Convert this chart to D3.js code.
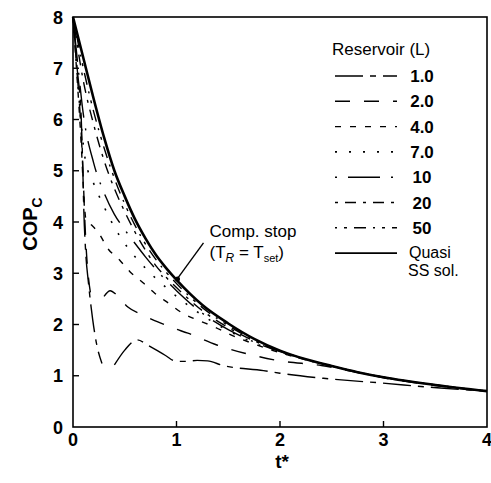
<!DOCTYPE html>
<html>
<head>
<meta charset="utf-8">
<script src="https://cdn.jsdelivr.net/npm/d3@7"></script>
<style>
  body { margin: 0; background: #fff; }
  svg { display: block; font-family: "Liberation Sans", Arial, sans-serif; }
</style>
</head>
<body>
<div id="chart"></div>
<script>
const width = 491, height = 483;
const margin = {top: 17, right: 4, bottom: 56, left: 73};

// axis ticks
const xTicks = [0, 1, 2, 3, 4];
const yTicks = [0, 1, 2, 3, 4, 5, 6, 7, 8];

// legend labels (reservoir volume, L)
const legendLabels = ['1.0', '2.0', '4.0', '7.0', '10', '20', '50'];

// curves: [t*, COPc], null = compressor off (gap)
const res1 = [[0,8],[0.04,7.0],[0.08,6.0],[0.095,5.0],[0.105,4.2],[0.12,3.5],[0.15,2.8],[0.19,2.1],[0.23,1.6],[0.28,1.24],null,
  [0.4,1.21],[0.5,1.5],[0.62,1.7],[0.72,1.6],[0.89,1.4],[1.0,1.28],[1.1,1.28],[1.2,1.3],[1.3,1.29],[1.45,1.2],[1.84,1.1],
  [2.0,1.05],[2.42,0.95],[2.97,0.86],[3.55,0.76],[4,0.7]];
const res2 = [[0,8],[0.04,6.9],[0.075,5.9],[0.1,4.8],[0.115,4.0],[0.13,3.4],[0.15,2.9],[0.17,2.6],null,
  [0.3,2.55],[0.36,2.66],[0.42,2.58],[0.53,2.34],[0.68,2.18],[0.82,2.05],[0.97,1.93],[1.11,1.83],[1.39,1.6],[1.66,1.44],
  [2.0,1.29],[2.4,1.2],[2.75,1.06],[3.0,0.96],[3.5,0.81],[4,0.69]];
const res4 = [[0,8],[0.04,6.8],[0.08,5.5],[0.105,4.5],[0.125,4.05],[0.16,3.98],[0.26,3.75],[0.33,3.5],[0.45,3.26],[0.55,3.03],
  [0.68,2.81],[0.79,2.61],[0.92,2.42],[1.06,2.22],[1.2,2.09],[1.37,1.95],[1.5,1.82],[1.75,1.62],[2.0,1.45],[2.25,1.31],
  [2.5,1.19],[2.75,1.07],[3.0,0.97],[3.5,0.82],[4,0.7]];
const res7 = [[0,8],[0.04,6.9],[0.08,5.9],[0.12,5.2],[0.2,4.75],[0.3,4.3],[0.4,3.9],[0.5,3.58],[0.6,3.32],[0.7,3.1],
  [0.8,2.9],[0.9,2.72],[1.0,2.55],[1.25,2.18],[1.5,1.88],[1.75,1.64],[2.0,1.46],[2.25,1.31],[2.5,1.19],[2.75,1.07],
  [3.0,0.97],[3.5,0.82],[4,0.7]];
const res10 = [[0,8],[0.05,7.0],[0.1,6.1],[0.2,5.15],[0.3,4.57],[0.4,4.15],[0.5,3.85],[0.6,3.58],[0.7,3.32],[0.8,3.08],
  [0.9,2.86],[1.0,2.66],[1.25,2.22],[1.5,1.9],[1.75,1.66],[2.0,1.47],[2.25,1.32],[2.5,1.19],[2.75,1.07],[3.0,0.97],
  [3.5,0.82],[4,0.7]];
const res20 = [[0,8],[0.1,6.75],[0.2,5.9],[0.3,5.2],[0.4,4.65],[0.5,4.2],[0.6,3.8],[0.7,3.45],[0.8,3.15],[0.9,2.92],
  [1.0,2.72],[1.25,2.27],[1.5,1.94],[1.75,1.68],[2.0,1.48],[2.25,1.32],[2.5,1.19],[2.75,1.07],[3.0,0.97],[3.5,0.82],[4,0.7]];
const res50 = [[0,8],[0.1,7.0],[0.2,6.15],[0.3,5.45],[0.4,4.85],[0.5,4.35],[0.6,3.93],[0.7,3.57],[0.8,3.27],[0.9,3.02],
  [1.0,2.8],[1.25,2.33],[1.5,1.98],[1.75,1.7],[2.0,1.49],[2.25,1.32],[2.5,1.19],[2.75,1.07],[3.0,0.97],[3.5,0.82],[4,0.7]];
const quasiSS = [[0,8],[0.1,7.2],[0.2,6.4],[0.3,5.65],[0.4,5.0],[0.5,4.5],[0.6,4.05],[0.7,3.68],[0.8,3.36],[0.9,3.1],
  [1.0,2.87],[1.25,2.38],[1.5,2.02],[1.75,1.72],[2.0,1.49],[2.25,1.32],[2.5,1.19],[2.75,1.07],[3.0,0.97],[3.5,0.82],[4,0.7]];

// line styles per series
const series = [
  {data: res1,  dash: '28,7,6,7',     width: 1.4},
  {data: res2,  dash: '15,14',        width: 1.4},
  {data: res4,  dash: '6,9',          width: 1.4},
  {data: res7,  dash: '2,12',         width: 1.6},
  {data: res10, dash: '2,11,32,11',   width: 1.4},
  {data: res20, dash: '3,7,11,7',     width: 1.4},
  {data: res50, dash: '2,7,3,7,12,7', width: 1.4},
  {data: quasiSS, dash: null,         width: 2.6}
];

const svg = d3.select('#chart')
  .append('svg')
  .attr('width', width)
  .attr('height', height);

const x = d3.scaleLinear().domain([0, 4]).range([margin.left, width - margin.right]);
const y = d3.scaleLinear().domain([0, 8]).range([height - margin.bottom, margin.top]);

// frame
svg.append('rect')
  .attr('x', x(0)).attr('y', y(8))
  .attr('width', x(4) - x(0)).attr('height', y(0) - y(8))
  .attr('fill', 'none').attr('stroke', '#000').attr('stroke-width', 1.6);

// inward ticks
svg.append('g').selectAll('line')
  .data(yTicks.slice(1, -1))
  .enter().append('line')
  .attr('x1', x(0)).attr('x2', x(0) + 6)
  .attr('y1', d => y(d)).attr('y2', d => y(d))
  .attr('stroke', '#000').attr('stroke-width', 1.4);

svg.append('g').selectAll('line')
  .data(xTicks.slice(1, -1))
  .enter().append('line')
  .attr('x1', d => x(d)).attr('x2', d => x(d))
  .attr('y1', y(0)).attr('y2', y(0) - 6)
  .attr('stroke', '#000').attr('stroke-width', 1.4);

// tick labels
svg.append('g').selectAll('text')
  .data(yTicks)
  .enter().append('text')
  .attr('x', x(0) - 10).attr('y', d => y(d) + 6.5)
  .attr('text-anchor', 'end')
  .attr('font-size', 18).attr('font-weight', 'bold')
  .text(d => d);

svg.append('g').selectAll('text')
  .data(xTicks)
  .enter().append('text')
  .attr('x', d => x(d)).attr('y', y(0) + 19)
  .attr('text-anchor', 'middle')
  .attr('font-size', 18).attr('font-weight', 'bold')
  .text(d => d);

// axis titles
svg.append('text')
  .attr('x', (x(0) + x(4)) / 2 + 2).attr('y', 468)
  .attr('text-anchor', 'middle')
  .attr('font-size', 19).attr('font-weight', 'bold')
  .text('t*');

const yTitle = svg.append('text')
  .attr('transform', 'translate(37,224) rotate(-90)')
  .attr('text-anchor', 'middle')
  .attr('font-size', 20).attr('font-weight', 'bold');
yTitle.append('tspan').text('COP');
yTitle.append('tspan').attr('font-size', 14).attr('dy', 5).text('C');

// curves
const line = d3.line()
  .defined(d => d !== null)
  .x(d => x(d[0]))
  .y(d => y(d[1]))
  .curve(d3.curveMonotoneX);

svg.append('g').selectAll('path')
  .data(series)
  .enter().append('path')
  .attr('d', d => line(d.data))
  .attr('fill', 'none')
  .attr('stroke', '#000')
  .attr('stroke-width', d => d.width)
  .attr('stroke-dasharray', d => d.dash)
  .attr('stroke-linecap', 'butt');

// legend
const legend = svg.append('g');
legend.append('text')
  .attr('x', 332).attr('y', 55)
  .attr('font-size', 17)
  .text('Reservoir (L)');

const rowY = i => 76 + i * 25.3;
legend.selectAll('line.sample')
  .data(series)
  .enter().append('line')
  .attr('class', 'sample')
  .attr('x1', 335).attr('x2', 397)
  .attr('y1', (d, i) => rowY(i)).attr('y2', (d, i) => rowY(i))
  .attr('stroke', '#000')
  .attr('stroke-width', d => Math.min(d.width, 1.8))
  .attr('stroke-dasharray', d => d.dash);

legend.selectAll('text.lab')
  .data(legendLabels)
  .enter().append('text')
  .attr('class', 'lab')
  .attr('x', 422).attr('y', (d, i) => rowY(i) + 6)
  .attr('text-anchor', 'middle')
  .attr('font-size', 17).attr('font-weight', 'bold')
  .text(d => d);

legend.append('text')
  .attr('x', 409).attr('y', rowY(7) + 5)
  .attr('font-size', 16)
  .text('Quasi');
legend.append('text')
  .attr('x', 408).attr('y', rowY(7) + 23)
  .attr('font-size', 16)
  .text('SS sol.');

// annotation: compressor stop
const ax = x(1.0), ay = y(2.87);
svg.append('line')
  .attr('x1', ax + 27).attr('y1', ay - 37)
  .attr('x2', ax).attr('y2', ay)
  .attr('stroke', '#000').attr('stroke-width', 1.4);
svg.append('circle')
  .attr('cx', ax + 1).attr('cy', ay - 1).attr('r', 2.5)
  .attr('fill', '#000');

svg.append('text')
  .attr('x', ax + 33).attr('y', ay - 43)
  .attr('font-size', 17)
  .text('Comp. stop');
const ann = svg.append('text')
  .attr('x', ax + 33).attr('y', ay - 22)
  .attr('font-size', 17);
ann.append('tspan').text('(T');
ann.append('tspan').attr('font-size', 12).attr('font-style', 'italic').attr('dy', 4).text('R');
ann.append('tspan').attr('dy', -4).text(' = T');
ann.append('tspan').attr('font-size', 11).attr('dy', 4).text('set');
ann.append('tspan').attr('dy', -4).text(')');
</script>
</body>
</html>
